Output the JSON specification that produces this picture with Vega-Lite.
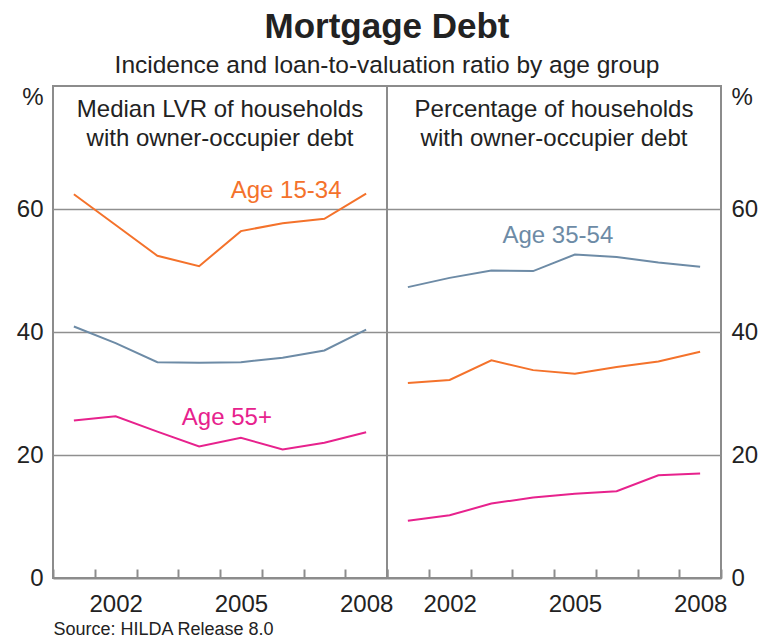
{
  "$schema": "https://vega.github.io/schema/vega-lite/v6.json",
  "background": "white",
  "autosize": {"type": "pad"},
  "padding": {"left": 15, "top": 9, "right": 0, "bottom": 0},
  "spacing": 0,
  "bounds": "flush",
  "title": {
    "text": "Mortgage Debt",
    "subtitle": "Incidence and loan-to-valuation ratio by age group",
    "anchor": "middle",
    "font": "Liberation Sans",
    "fontSize": 35,
    "fontWeight": "bold",
    "color": "#222222",
    "subtitleFont": "Liberation Sans",
    "subtitleFontSize": 24.5,
    "subtitleColor": "#222222",
    "subtitlePadding": 9,
    "offset": 7
  },
  "config": {
    "font": "Liberation Sans",
    "view": {"stroke": "#8c8c8c", "strokeWidth": 2}
  },
  "datasets": {
    "series": [
      {"panel": "LVR", "group": "Age 15-34", "year": 2001, "value": 62.4},
      {"panel": "LVR", "group": "Age 15-34", "year": 2002, "value": 57.4},
      {"panel": "LVR", "group": "Age 15-34", "year": 2003, "value": 52.4},
      {"panel": "LVR", "group": "Age 15-34", "year": 2004, "value": 50.7},
      {"panel": "LVR", "group": "Age 15-34", "year": 2005, "value": 56.4},
      {"panel": "LVR", "group": "Age 15-34", "year": 2006, "value": 57.7},
      {"panel": "LVR", "group": "Age 15-34", "year": 2007, "value": 58.4},
      {"panel": "LVR", "group": "Age 15-34", "year": 2008, "value": 62.5},
      {"panel": "LVR", "group": "Age 35-54", "year": 2001, "value": 40.9},
      {"panel": "LVR", "group": "Age 35-54", "year": 2002, "value": 38.2},
      {"panel": "LVR", "group": "Age 35-54", "year": 2003, "value": 35.1},
      {"panel": "LVR", "group": "Age 35-54", "year": 2004, "value": 35.0},
      {"panel": "LVR", "group": "Age 35-54", "year": 2005, "value": 35.1},
      {"panel": "LVR", "group": "Age 35-54", "year": 2006, "value": 35.8},
      {"panel": "LVR", "group": "Age 35-54", "year": 2007, "value": 37.0},
      {"panel": "LVR", "group": "Age 35-54", "year": 2008, "value": 40.4},
      {"panel": "LVR", "group": "Age 55+", "year": 2001, "value": 25.6},
      {"panel": "LVR", "group": "Age 55+", "year": 2002, "value": 26.3},
      {"panel": "LVR", "group": "Age 55+", "year": 2003, "value": 23.8},
      {"panel": "LVR", "group": "Age 55+", "year": 2004, "value": 21.4},
      {"panel": "LVR", "group": "Age 55+", "year": 2005, "value": 22.8},
      {"panel": "LVR", "group": "Age 55+", "year": 2006, "value": 20.9},
      {"panel": "LVR", "group": "Age 55+", "year": 2007, "value": 22.0},
      {"panel": "LVR", "group": "Age 55+", "year": 2008, "value": 23.7},
      {"panel": "Incidence", "group": "Age 15-34", "year": 2001, "value": 31.7},
      {"panel": "Incidence", "group": "Age 15-34", "year": 2002, "value": 32.2},
      {"panel": "Incidence", "group": "Age 15-34", "year": 2003, "value": 35.4},
      {"panel": "Incidence", "group": "Age 15-34", "year": 2004, "value": 33.8},
      {"panel": "Incidence", "group": "Age 15-34", "year": 2005, "value": 33.2},
      {"panel": "Incidence", "group": "Age 15-34", "year": 2006, "value": 34.3},
      {"panel": "Incidence", "group": "Age 15-34", "year": 2007, "value": 35.2},
      {"panel": "Incidence", "group": "Age 15-34", "year": 2008, "value": 36.8},
      {"panel": "Incidence", "group": "Age 35-54", "year": 2001, "value": 47.3},
      {"panel": "Incidence", "group": "Age 35-54", "year": 2002, "value": 48.8},
      {"panel": "Incidence", "group": "Age 35-54", "year": 2003, "value": 50.0},
      {"panel": "Incidence", "group": "Age 35-54", "year": 2004, "value": 49.9},
      {"panel": "Incidence", "group": "Age 35-54", "year": 2005, "value": 52.6},
      {"panel": "Incidence", "group": "Age 35-54", "year": 2006, "value": 52.2},
      {"panel": "Incidence", "group": "Age 35-54", "year": 2007, "value": 51.3},
      {"panel": "Incidence", "group": "Age 35-54", "year": 2008, "value": 50.6},
      {"panel": "Incidence", "group": "Age 55+", "year": 2001, "value": 9.3},
      {"panel": "Incidence", "group": "Age 55+", "year": 2002, "value": 10.2},
      {"panel": "Incidence", "group": "Age 55+", "year": 2003, "value": 12.1},
      {"panel": "Incidence", "group": "Age 55+", "year": 2004, "value": 13.1},
      {"panel": "Incidence", "group": "Age 55+", "year": 2005, "value": 13.7},
      {"panel": "Incidence", "group": "Age 55+", "year": 2006, "value": 14.1},
      {"panel": "Incidence", "group": "Age 55+", "year": 2007, "value": 16.7},
      {"panel": "Incidence", "group": "Age 55+", "year": 2008, "value": 17.0}
    ],
    "labels": [
      {"panel": "LVR", "group": "Age 15-34", "year": 2006, "value": 61.75},
      {"panel": "LVR", "group": "Age 55+", "year": 2005, "value": 24.9},
      {"panel": "Incidence", "group": "Age 35-54", "year": 2005, "value": 54.4}
    ]
  },
  "hconcat": [
    {
      "width": 334,
      "height": 492,
      "title": {
        "text": ["Median LVR of households", "with owner-occupier debt"],
        "anchor": "middle",
        "fontSize": 24,
        "fontWeight": "normal",
        "color": "#222222",
        "lineHeight": 29,
        "baseline": "alphabetic",
        "offset": -85
      },
      "encoding": {
        "x": {
          "field": "year",
          "type": "ordinal",
          "bandPosition": 0.5,
          "scale": {"type": "band", "domain": [2001, 2002, 2003, 2004, 2005, 2006, 2007, 2008], "paddingInner": 0, "paddingOuter": 0},
          "axis": {
            "title": "Source: HILDA Release 8.0",
            "titleAnchor": "start",
            "titleAlign": "left",
            "titleFontSize": 18,
            "titleFontWeight": "normal",
            "titleColor": "#222222",
            "titlePadding": 4,
            "labelExpr": "datum.value == 2002 || datum.value == 2005 || datum.value == 2008 ? datum.label : ''",
            "labelAngle": 0,
            "labelFontSize": 24,
            "labelColor": "#222222",
            "labelPadding": 23,
            "tickBand": "extent",
            "tickSize": -9,
            "tickColor": "#8c8c8c",
            "tickWidth": 2,
            "domainColor": "#8c8c8c",
            "domainWidth": 2,
            "grid": false
          }
        },
        "y": {
          "field": "value",
          "type": "quantitative",
          "scale": {"domain": [0, 80], "nice": false},
          "axis": {
            "title": null,
            "values": [0, 20, 40, 60, 80],
            "labelExpr": "datum.value == 80 ? '%' : datum.label",
            "labelOffset": {"condition": {"test": "datum.value == 80", "value": 11}, "value": 0},
            "labelFontSize": 24,
            "labelColor": "#222222",
            "labelPadding": 10,
            "domain": false,
            "ticks": false,
            "grid": true,
            "gridColor": "#8f8f8f",
            "gridWidth": 1.5,
            "gridOpacity": {"condition": {"test": "datum.value == 0 || datum.value == 80", "value": 0}, "value": 1}
          }
        },
        "color": {
          "field": "group",
          "type": "nominal",
          "scale": {"domain": ["Age 15-34", "Age 35-54", "Age 55+"], "range": ["#f4722b", "#6d8ba6", "#e7228d"]},
          "legend": null
        }
      },
      "layer": [
        {
          "data": {"name": "series"},
          "transform": [{"filter": "datum.panel == 'LVR'"}],
          "mark": {"type": "line", "strokeWidth": 2}
        },
        {
          "data": {"name": "labels"},
          "transform": [{"filter": "datum.panel == 'LVR' && datum.group == 'Age 15-34'"}],
          "mark": {"type": "text", "fontSize": 24, "align": "center", "baseline": "alphabetic", "dx": 3.5},
          "encoding": {"text": {"field": "group"}}
        },
        {
          "data": {"name": "labels"},
          "transform": [{"filter": "datum.panel == 'LVR' && datum.group == 'Age 55+'"}],
          "mark": {"type": "text", "fontSize": 24, "align": "center", "baseline": "alphabetic", "dx": -14},
          "encoding": {"text": {"field": "group"}}
        }
      ]
    },
    {
      "width": 334,
      "height": 492,
      "title": {
        "text": ["Percentage of households", "with owner-occupier debt"],
        "anchor": "middle",
        "fontSize": 24,
        "fontWeight": "normal",
        "color": "#222222",
        "lineHeight": 29,
        "baseline": "alphabetic",
        "offset": -85
      },
      "encoding": {
        "x": {
          "field": "year",
          "type": "ordinal",
          "bandPosition": 0.5,
          "scale": {"type": "band", "domain": [2001, 2002, 2003, 2004, 2005, 2006, 2007, 2008], "paddingInner": 0, "paddingOuter": 0},
          "axis": {
            "title": null,
            "labelExpr": "datum.value == 2002 || datum.value == 2005 || datum.value == 2008 ? datum.label : ''",
            "labelAngle": 0,
            "labelFontSize": 24,
            "labelColor": "#222222",
            "labelPadding": 23,
            "tickBand": "extent",
            "tickSize": -9,
            "tickColor": "#8c8c8c",
            "tickWidth": 2,
            "domainColor": "#8c8c8c",
            "domainWidth": 2,
            "grid": false
          }
        },
        "y": {
          "field": "value",
          "type": "quantitative",
          "scale": {"domain": [0, 80], "nice": false},
          "axis": {
            "orient": "right",
            "title": null,
            "values": [0, 20, 40, 60, 80],
            "labelExpr": "datum.value == 80 ? '%' : datum.label",
            "labelOffset": {"condition": {"test": "datum.value == 80", "value": 11}, "value": 0},
            "labelFontSize": 24,
            "labelColor": "#222222",
            "labelPadding": 10,
            "domain": false,
            "ticks": false,
            "grid": true,
            "gridColor": "#8f8f8f",
            "gridWidth": 1.5,
            "gridOpacity": {"condition": {"test": "datum.value == 0 || datum.value == 80", "value": 0}, "value": 1}
          }
        },
        "color": {
          "field": "group",
          "type": "nominal",
          "scale": {"domain": ["Age 15-34", "Age 35-54", "Age 55+"], "range": ["#f4722b", "#6d8ba6", "#e7228d"]},
          "legend": null
        }
      },
      "layer": [
        {
          "data": {"name": "series"},
          "transform": [{"filter": "datum.panel == 'Incidence'"}],
          "mark": {"type": "line", "strokeWidth": 2}
        },
        {
          "data": {"name": "labels"},
          "transform": [{"filter": "datum.panel == 'Incidence'"}],
          "mark": {"type": "text", "fontSize": 24, "align": "center", "baseline": "alphabetic", "dx": -17},
          "encoding": {"text": {"field": "group"}}
        }
      ]
    }
  ]
}
